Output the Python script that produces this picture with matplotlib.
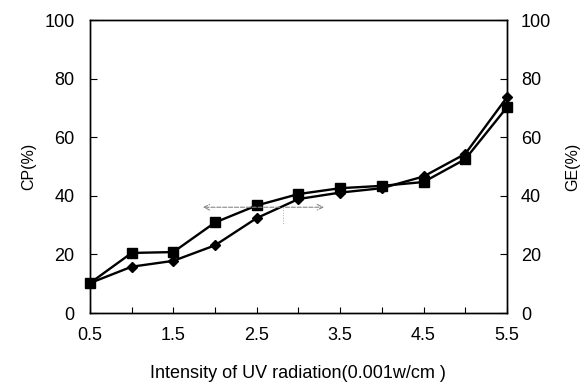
import matplotlib
matplotlib.use("Agg")
import matplotlib.pyplot as plt

x = [0.5, 1.0, 1.5, 2.0, 2.5, 3.0, 3.5, 4.0, 4.5, 5.0, 5.5]
cp = [10.2, 20.5, 20.8, 30.9, 36.7, 40.6, 42.6, 43.4, 44.7, 52.5, 70.2]
ge = [10.2, 15.8, 17.8, 23.1, 32.4, 38.9, 41.1, 42.6, 46.6, 54.3, 73.6]
xtick_labels = ["0.5", "1.5", "2.5", "3.5", "4.5", "5.5"]
ytick_vals = [0, 20, 40, 60, 80, 100]

plt.rcParams['font.family'] = ['Liberation Sans', 'DejaVu Sans']
fig = plt.figure(figsize=(5.84, 3.85), dpi=100)
ax = fig.add_axes([0.154, 0.187, 0.714, 0.761])
ax.plot(x, cp, color='black', lw=1.7, marker='s', ms=6.5, zorder=3, clip_on=False)
ax.plot(x, ge, color='black', lw=1.7, marker='D', ms=5.5, zorder=3, clip_on=False)
ax.set_xlim(0.5, 5.5)
ax.set_ylim(0, 100)
ax.set_xticks(x)
ax.set_xticklabels([xtick_labels[i // 2] if i % 2 == 0 else "" for i in range(len(x))])
ax.set_yticks(ytick_vals)
ax.tick_params(axis='x', direction='in', length=4, labelsize=13, pad=10)
ax.tick_params(axis='y', direction='in', length=5, labelsize=13, pad=11)
ax.set_ylabel("CP(%)", fontsize=11.5, labelpad=6)
ax.set_xlabel("Intensity of UV radiation(0.001w/cm )", fontsize=13, labelpad=15)
ax2 = ax.twinx()
ax2.set_ylim(0, 100)
ax2.set_yticks(ytick_vals)
ax2.tick_params(axis='y', direction='in', length=5, labelsize=13, pad=10)
ax2.set_ylabel("GE(%)", fontsize=11.5, labelpad=10)
for a in (ax, ax2):
    for s in a.spines.values():
        s.set_linewidth(1.0)

# faint annotation arrows
ax.annotate("", xy=(1.82, 36.1), xytext=(2.81, 36.1),
            arrowprops=dict(arrowstyle='->', color='#888888', lw=0.8, linestyle='--'))
ax.annotate("", xy=(3.34, 36.1), xytext=(2.81, 36.1),
            arrowprops=dict(arrowstyle='->', color='#888888', lw=0.8, linestyle='--'))
ax.plot([2.81, 2.81], [36.1, 30.0], color='#aaaaaa', lw=0.7, ls=':')

fig.savefig("out.png", dpi=100)
